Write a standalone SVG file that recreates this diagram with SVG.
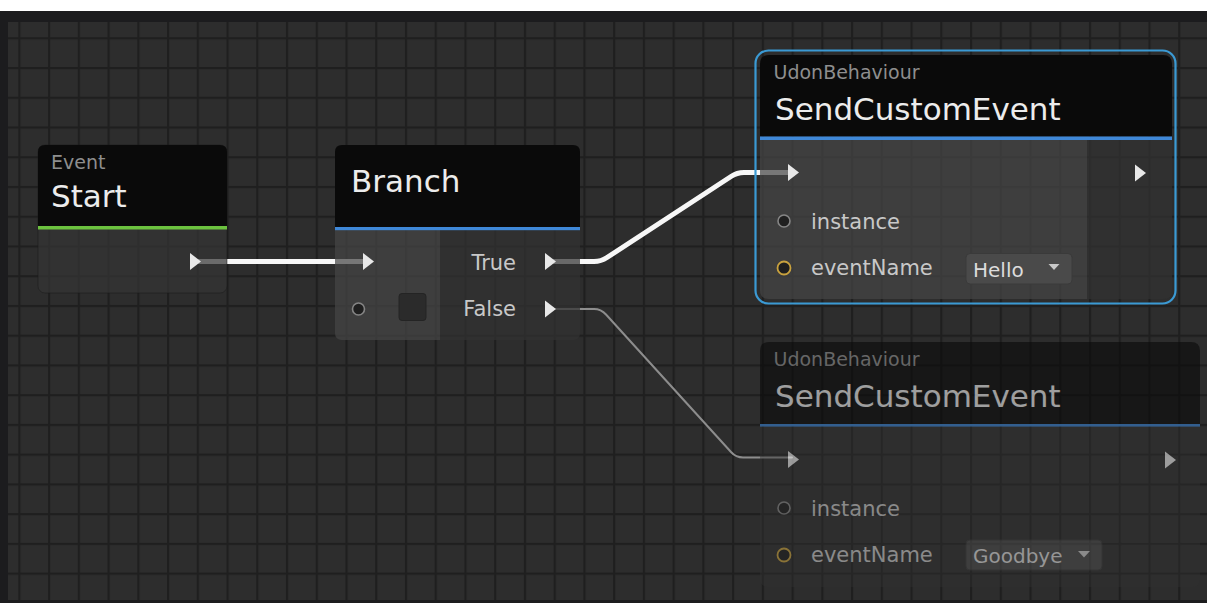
<svg xmlns="http://www.w3.org/2000/svg" width="1207" height="603" viewBox="0 0 1207 603">
  <defs>
    <!-- editor canvas grid -->
    <pattern id="grid" patternUnits="userSpaceOnUse" x="18.3" y="7.5" width="29.74" height="29.74">
      <rect width="29.74" height="29.74" fill="#2d2d2d"/>
      <path d="M0 1.1 H29.74 M1.1 0 V29.74" stroke="#1f1f1f" stroke-width="2.2" fill="none"/>
    </pattern>
    <style>
      .hdr { fill: #0a0a0a; }
      .body { fill: #353535; fill-opacity: 0.72; }
      .col-in { fill: #454545; fill-opacity: 0.72; }
      .col-out { fill: #323232; fill-opacity: 0.72; }
      .accent-green { fill: #6cc23f; }
      .accent-blue { fill: #3f88d8; }
      .sub { font-family: "DejaVu Sans", sans-serif; font-size: 19px; fill: #8e8e8e; }
      .title { font-family: "DejaVu Sans", sans-serif; font-size: 31px; fill: #ececec; }
      .lbl { font-family: "DejaVu Sans", sans-serif; font-size: 21px; fill: #c8c8c8; }
      .val { font-family: "DejaVu Sans", sans-serif; font-size: 20px; fill: #dcdcdc; }
      .exec { fill: #e8e8e8; }
      .port { fill: #1f1f1f; stroke: #858585; stroke-width: 1.6; }
      .port-str { fill: #1f1f1f; stroke: #c9a23e; stroke-width: 1.8; }
      .dd { fill: #4a4a4a; stroke: #3a3a3a; stroke-width: 1; }
      .dd-arrow { fill: #c8c8c8; }
      .wire-on { fill: none; stroke: #f7f7f7; stroke-width: 5; stroke-linecap: round; stroke-linejoin: round; }
      .wire-off { fill: none; stroke: #8d8d8d; stroke-width: 2; stroke-linecap: round; stroke-linejoin: round; }
    </style>
  </defs>

  <!-- window chrome and canvas -->
  <rect x="0" y="0" width="1207" height="603" fill="#ffffff"/>
  <rect x="0" y="11" width="1207" height="592" fill="#1c1c1e"/>
  <rect x="8" y="22" width="1199" height="578" fill="url(#grid)"/>

  <!-- connectors -->
  <g id="connectors">
    <path class="wire-on" d="M198 261.5 H366"/>
    <path class="wire-on" d="M553 261.5 H594 Q601 261.5 607 257.5 L731 176.5 Q737 172.5 744 172.5 H792"/>
    <path class="wire-off" d="M553 309 H594 Q601 309 606 314.5 L731 452 Q736 457.5 743 457.5 H792"/>
  </g>

  <!-- Event: Start -->
  <g id="node-start">
    <rect x="38" y="145" width="189" height="148" rx="7" class="body" stroke="#1a1a1a" stroke-opacity="0.5"/>
    <path class="hdr" d="M38 226 V152 Q38 145 45 145 H220 Q227 145 227 152 V226 Z"/>
    <rect x="38" y="226" width="189" height="3.5" class="accent-green"/>
    <text x="51" y="168.5" class="sub">Event</text>
    <text x="51" y="206.5" class="title">Start</text>
    <polygon class="exec" points="190,253 201,261.5 190,270"/>
  </g>

  <!-- Branch -->
  <g id="node-branch">
    <path class="col-in" d="M335 230 H440 V340 H342 Q335 340 335 333 Z"/>
    <path class="col-out" d="M440 230 H580 V333 Q580 340 573 340 H440 Z"/>
    <path class="hdr" d="M335 227 V152 Q335 145 342 145 H573 Q580 145 580 152 V227 Z"/>
    <rect x="335" y="227" width="245" height="3.2" class="accent-blue"/>
    <text x="351" y="192" class="title">Branch</text>
    <polygon class="exec" points="363,253 374,261.5 363,270"/>
    <circle cx="358.5" cy="309" r="6" class="port"/>
    <rect x="399" y="293.5" width="27" height="27" rx="3" fill="#2b2b2b" stroke="#242424" stroke-width="1"/>
    <text x="516" y="269.5" class="lbl" text-anchor="end">True</text>
    <polygon class="exec" points="545,253 556,261.5 545,270"/>
    <text x="516" y="316" class="lbl" text-anchor="end">False</text>
    <polygon class="exec" points="545,300.5 556,309 545,317.5"/>
  </g>

  <!-- UdonBehaviour.SendCustomEvent (selected) -->
  <g id="node-send-hello">
    <rect x="755.5" y="50.5" width="420" height="253" rx="13" fill="none" stroke="#3b9ad4" stroke-width="2.2"/>
    <path class="col-in" d="M760 140 H1087 V299 H769 Q760 299 760 290 Z"/>
    <path class="col-out" d="M1087 140 H1172 V290 Q1172 299 1163 299 H1087 Z"/>
    <path class="hdr" d="M760 136.5 V64 Q760 55 769 55 H1163 Q1172 55 1172 64 V136.5 Z"/>
    <rect x="760" y="136.5" width="412" height="3.5" class="accent-blue"/>
    <text x="773.5" y="78.5" class="sub">UdonBehaviour</text>
    <text x="775" y="119.5" class="title" font-size="31.5">SendCustomEvent</text>
    <polygon class="exec" points="788,164 799,172.5 788,181"/>
    <polygon class="exec" points="1135,164.5 1146,173 1135,181.5"/>
    <circle cx="784" cy="221" r="6" class="port"/>
    <text x="811" y="228.5" class="lbl">instance</text>
    <circle cx="784" cy="268" r="6.5" class="port-str"/>
    <text x="811" y="275" class="lbl">eventName</text>
    <rect x="966" y="253.5" width="106" height="30.5" rx="4" class="dd"/>
    <text x="973" y="276.5" class="val">Hello</text>
    <polygon class="dd-arrow" points="1048.5,264 1059.5,264 1054,270"/>
  </g>

  <!-- UdonBehaviour.SendCustomEvent (inactive) -->
  <g id="node-send-goodbye" opacity="0.6">
    <path class="col-out" d="M760 426.5 H1200 V578 Q1200 587 1191 587 H769 Q760 587 760 578 Z"/>
    <path class="hdr" d="M760 424 V351 Q760 342 769 342 H1191 Q1200 342 1200 351 V424 Z"/>
    <rect x="760" y="424" width="440" height="2.6" class="accent-blue"/>
    <text x="773.5" y="365.5" class="sub">UdonBehaviour</text>
    <text x="775" y="406.5" class="title" font-size="31.5">SendCustomEvent</text>
    <polygon class="exec" points="788,451 799,459.5 788,468"/>
    <polygon class="exec" points="1165,451.5 1176,460 1165,468.5"/>
    <circle cx="784" cy="508" r="6" class="port"/>
    <text x="811" y="515.5" class="lbl">instance</text>
    <circle cx="784" cy="555" r="6.5" class="port-str"/>
    <text x="811" y="562" class="lbl">eventName</text>
    <rect x="966" y="540" width="136" height="30" rx="4" class="dd"/>
    <text x="973" y="563" class="val">Goodbye</text>
    <polygon class="dd-arrow" points="1078,551 1090,551 1084,557.5"/>
  </g>
</svg>
